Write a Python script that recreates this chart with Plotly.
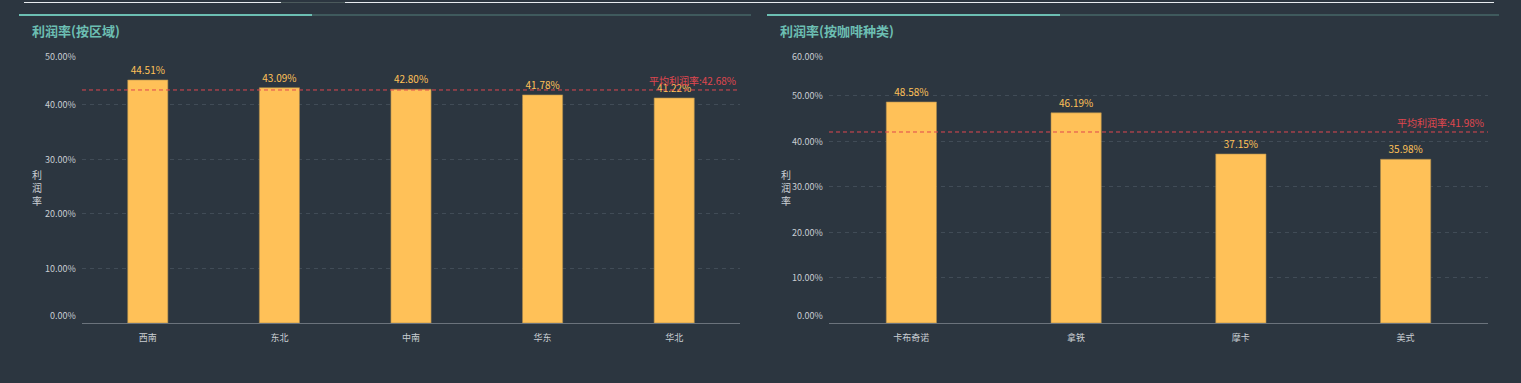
import plotly.graph_objects as go

W, H = 1521, 383

region_cats = ["西南", "东北", "中南", "华东", "华北"]
region_vals = [44.51, 43.09, 42.80, 41.78, 41.22]
region_avg = 42.68
region_ticks = [0, 10, 20, 30, 40, 50]

coffee_cats = ["卡布奇诺", "拿铁", "摩卡", "美式"]
coffee_vals = [48.58, 46.19, 37.15, 35.98]
coffee_avg = 41.98
coffee_ticks = [0, 10, 20, 30, 40, 50, 60]

titles = ["利润率(按区域)", "利润率(按咖啡种类)"]
axis_title = "利润率"
avg_label = "平均利润率:"

BG = "#2c3640"
BAR = "#ffc158"
RED = "#e0474f"
TEAL = "#6cbfb3"
GRID = "#414c57"
TXT = "#c9ced3"
FONT = "Noto Sans CJK SC, Microsoft YaHei, sans-serif"

def px(x):
    return x / W

def py(y):
    return 1 - y / H

fig = go.Figure()

panels = [
    dict(cats=region_cats, vals=region_vals, avg=region_avg, ticks=region_ticks,
         xd=[px(82), px(740)], xa="x", ya="y", title=titles[0], tx=30, ytx=37),
    dict(cats=coffee_cats, vals=coffee_vals, avg=coffee_avg, ticks=coffee_ticks,
         xd=[px(829), px(1488)], xa="x2", ya="y2", title=titles[1], tx=778, ytx=786),
]

annotations = []
shapes = []

for i, p in enumerate(panels):
    fig.add_trace(go.Bar(
        x=p["cats"], y=p["vals"], xaxis=p["xa"], yaxis=p["ya"],
        marker=dict(color=BAR, line=dict(color="#a98a4e", width=0.6)),
        text=[f"{v:.2f}%" for v in p["vals"]], textposition="outside",
        textfont=dict(color=BAR, size=10, family=FONT),
        cliponaxis=False, showlegend=False, hoverinfo="skip",
    ))
    ax = "xaxis" if i == 0 else "xaxis2"
    ay = "yaxis" if i == 0 else "yaxis2"
    fig.layout[ax] = dict(domain=p["xd"], anchor=p["ya"], showgrid=False,
                          showline=True, linecolor="#6b737c", linewidth=1,
                          ticks="", ticklabelstandoff=6,
                          tickfont=dict(color=TXT, size=9, family=FONT),
                          fixedrange=True)
    fig.layout[ay] = dict(domain=[py(323), py(50)], anchor=p["xa"],
                          range=[0, p["ticks"][-1]], tickvals=p["ticks"],
                          showticklabels=False, showgrid=True, gridcolor=GRID,
                          griddash="4px,4px", gridwidth=1, zeroline=False,
                          showline=False, fixedrange=True)
    n = len(p["ticks"])
    for k, t in enumerate(p["ticks"]):
        ys = 0
        if k == 0:
            ys = 8
        elif k == n - 1:
            ys = -7
        annotations.append(dict(
            x=0, xref=f"{p['xa']} domain", y=t, yref=p["ya"],
            text=f"{t:.2f}%", showarrow=False, xanchor="right", yanchor="middle",
            xshift=-4, yshift=ys, font=dict(color=TXT, size=9, family=FONT)))
    # average line
    shapes.append(dict(type="line", xref=f"{p['xa']} domain", yref=p["ya"],
                       x0=0, x1=1, y0=p["avg"], y1=p["avg"],
                       line=dict(color=RED, width=1, dash="4px,3px")))
    annotations.append(dict(
        x=1, xref=f"{p['xa']} domain", y=p["avg"], yref=p["ya"],
        text=f"{avg_label}{p['avg']:.2f}%", showarrow=False,
        xanchor="right", yanchor="bottom", xshift=-2, yshift=0,
        font=dict(color=RED, size=10, family=FONT)))
    # titles
    annotations.append(dict(
        x=px(p["tx"]), xref="paper", y=py(31), yref="paper",
        text=f"<b>{p['title']}</b>", showarrow=False, xanchor="left",
        yanchor="middle", font=dict(color=TEAL, size=13, family=FONT)))
    # y axis title
    annotations.append(dict(
        x=px(p["ytx"]), xref="paper", y=py(187), yref="paper",
        text="<br>".join(list(axis_title)), showarrow=False, xanchor="center",
        yanchor="middle", font=dict(color=TXT, size=10, family=FONT)))

# decorative lines
def hline(x0, x1, y, color, w):
    shapes.append(dict(type="line", xref="paper", yref="paper",
                       x0=px(x0), x1=px(x1), y0=py(y), y1=py(y),
                       line=dict(color=color, width=w)))

hline(24, 281, 2.5, "#e8ecef", 1.2)
hline(281, 345, 2.5, "#4c5a5c", 1.2)
hline(345, 1494, 2.5, "#e8ecef", 1.2)
hline(19, 312, 15, TEAL, 2)
hline(312, 751, 15, "#3f5a5d", 2)
hline(767, 1060, 15, TEAL, 2)
hline(1060, 1499, 15, "#3f5a5d", 2)

fig.update_layout(
    width=W, height=H, margin=dict(l=0, r=0, t=0, b=0),
    paper_bgcolor=BG, plot_bgcolor=BG, bargap=0.695,
    annotations=annotations, shapes=shapes,
    font=dict(family=FONT, color=TXT),
)

fig.write_html(
    "out.html",
    config={"displayModeBar": False},
    post_script="document.body.style.margin='0';document.body.style.background='#2c3640';document.body.style.overflow='hidden';",
)
